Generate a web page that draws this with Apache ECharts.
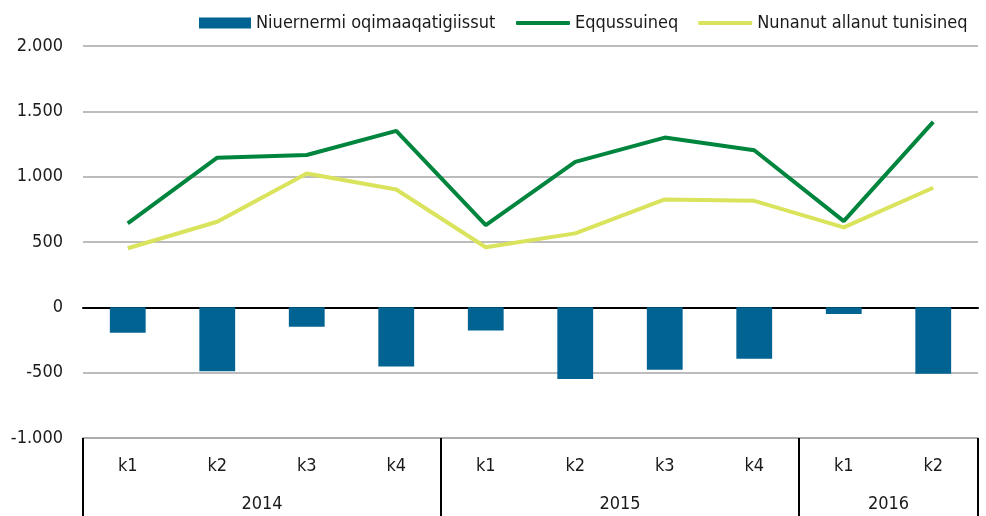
<!DOCTYPE html>
<html><head><meta charset="utf-8">
<script src="https://cdn.jsdelivr.net/npm/echarts@6/dist/echarts.min.js"></script>
<style>html,body{margin:0;padding:0;background:#fff}#c{width:986px;height:516px}</style>
</head><body><div id="c"></div>
<script>
const quarters = ['k1','k2','k3','k4','k1','k2','k3','k4','k1','k2'];
const years = ['2014','2015','2016'];
const yearCenters = [2, 6, 9];
const yearBounds = [0, 4, 8, 10];
const netMigration = [-195, -490, -148, -452, -178, -549, -477, -393, -51, -508];
const emigration = [643, 1145, 1166, 1350, 630, 1113, 1299, 1202, 660, 1420];
const immigration = [452, 655, 1024, 902, 460, 566, 826, 815, 612, 915];
const seriesNames = ['Niuernermi oqimaaqatigiissut', 'Eqqussuineq', 'Nunanut allanut tunisineq'];

const FONT = '"Liberation Sans Narrow", "Arial Narrow", "DejaVu Sans Condensed", sans-serif';
const FS = 18;
const chart = echarts.init(document.getElementById('c'));
const fmt = v => {
  const s = Math.abs(v).toString().replace(/\B(?=(\d{3})+(?!\d))/g, '.');
  return (v < 0 ? '-' : '') + s;
};
const legendText = {fontFamily: FONT, fontSize: FS, color: '#1a1a1a'};
chart.setOption({
  animation: false,
  textStyle: {fontFamily: FONT},
  grid: {left: 83, right: 8, top: 46, bottom: 78},
  legend: [
    {left: 199, top: 14, padding: 0, itemWidth: 52, itemHeight: 11, textStyle: legendText,
     data: [{name: seriesNames[0], icon: 'rect'}]},
    {left: 516, top: 14, padding: 0, width: 470, itemWidth: 54, itemHeight: 4, itemGap: 20,
     textStyle: legendText,
     data: [{name: seriesNames[1], icon: 'roundRect'}, {name: seriesNames[2], icon: 'roundRect'}]}
  ],
  xAxis: [
    {type: 'category', data: quarters, position: 'bottom',
     axisLine: {onZero: false, lineStyle: {color: '#a6a6a6', width: 1.5}},
     axisTick: {show: false},
     axisLabel: {margin: 19, fontSize: FS, color: '#1a1a1a', fontFamily: FONT}},
    {type: 'value', min: 0, max: 10, position: 'bottom',
     axisLine: {show: false, onZero: false},
     splitLine: {show: false},
     axisTick: {show: true, inside: false, length: 82, customValues: yearBounds,
                lineStyle: {color: '#000', width: 2}},
     axisLabel: {margin: 57, fontSize: FS, color: '#1a1a1a', fontFamily: FONT,
                 customValues: yearCenters,
                 formatter: v => years[yearCenters.indexOf(v)] || ''}},
    {type: 'category', data: quarters, position: 'bottom',
     axisLine: {onZero: true, lineStyle: {color: '#000', width: 2}},
     axisTick: {show: false}, axisLabel: {show: false}}
  ],
  yAxis: {
    type: 'value', min: -1000, max: 2000, interval: 500,
    axisLine: {show: false}, axisTick: {show: false},
    axisLabel: {margin: 20, fontSize: FS, color: '#1a1a1a', fontFamily: FONT, formatter: fmt},
    splitLine: {lineStyle: {color: '#a6a6a6', width: 1.5}}
  },
  series: [
    {name: seriesNames[0], type: 'bar', data: netMigration, barWidth: '40%',
     itemStyle: {color: '#006391'}, z: 2},
    {name: seriesNames[1], type: 'line', data: emigration, symbol: 'none',
     lineStyle: {color: '#00853e', width: 4}, itemStyle: {color: '#00853e'}, z: 3},
    {name: seriesNames[2], type: 'line', data: immigration, symbol: 'none',
     lineStyle: {color: '#d9e35c', width: 4}, itemStyle: {color: '#d9e35c'}, z: 3}
  ]
});
</script></body></html>
